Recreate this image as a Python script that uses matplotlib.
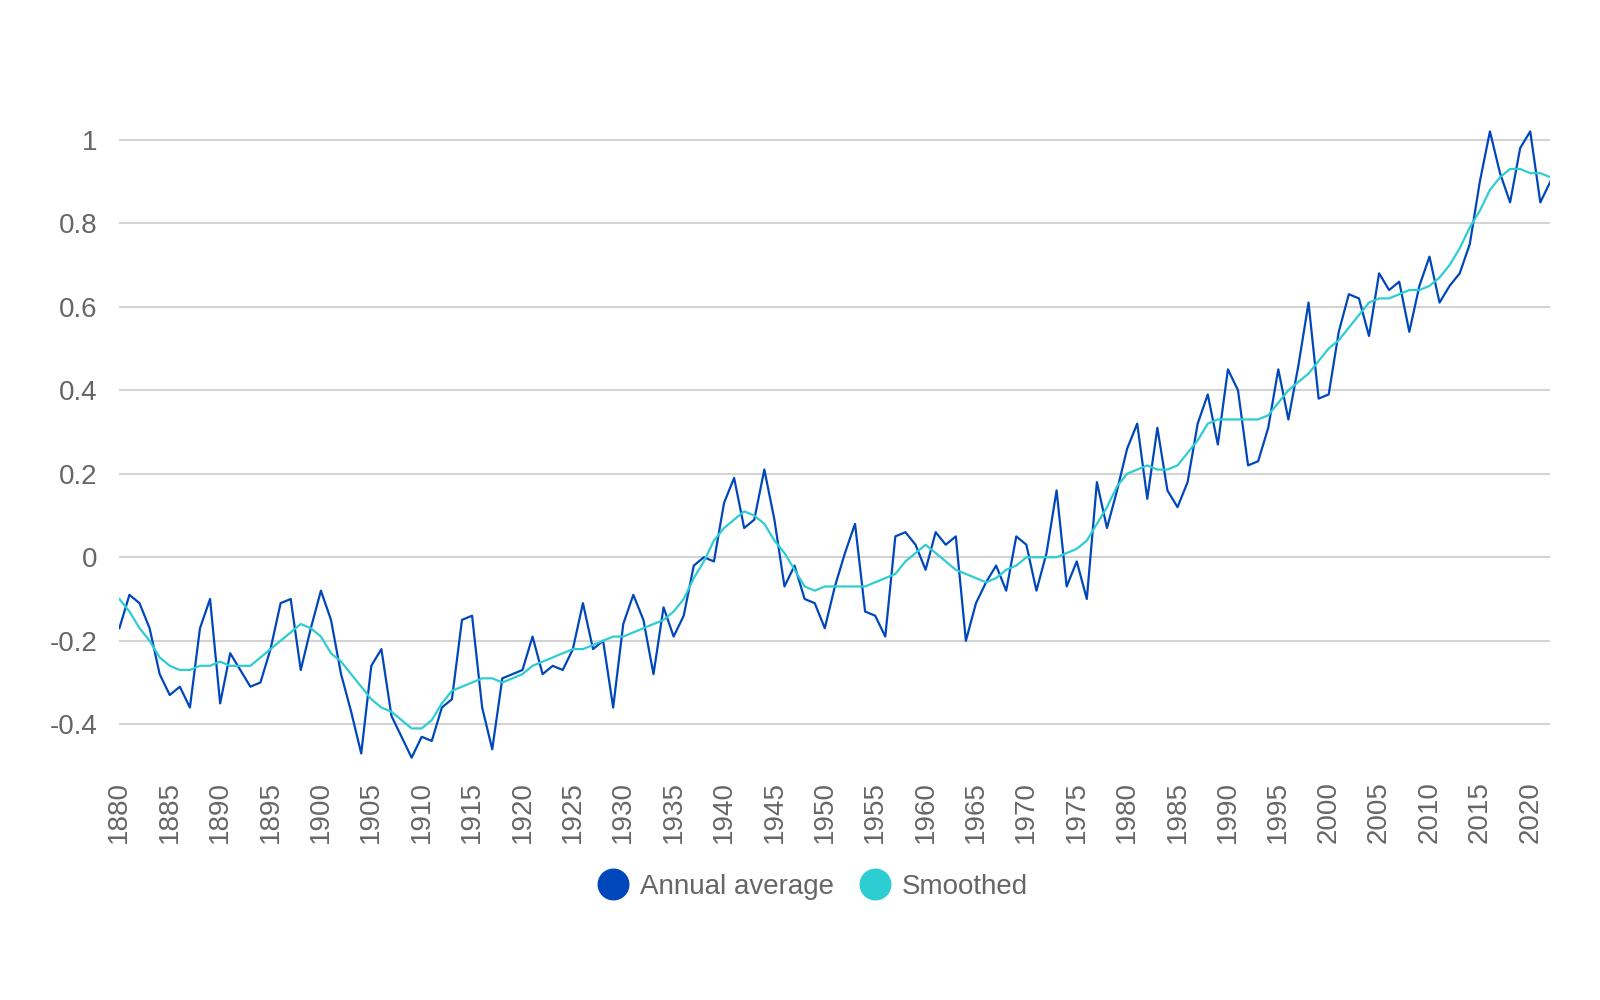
import matplotlib.pyplot as plt
from matplotlib.lines import Line2D
import numpy as np

# years and temperature anomaly values
years = np.arange(1880, 2023)

annual = [-0.17, -0.09, -0.11, -0.17, -0.28, -0.33, -0.31, -0.36, -0.17, -0.10,
          -0.35, -0.23, -0.27, -0.31, -0.30, -0.22, -0.11, -0.10, -0.27, -0.17,
          -0.08, -0.15, -0.28, -0.37, -0.47, -0.26, -0.22, -0.38, -0.43, -0.48,
          -0.43, -0.44, -0.36, -0.34, -0.15, -0.14, -0.36, -0.46, -0.29, -0.28,
          -0.27, -0.19, -0.28, -0.26, -0.27, -0.22, -0.11, -0.22, -0.20, -0.36,
          -0.16, -0.09, -0.15, -0.28, -0.12, -0.19, -0.14, -0.02, 0.00, -0.01,
          0.13, 0.19, 0.07, 0.09, 0.21, 0.09, -0.07, -0.02, -0.10, -0.11,
          -0.17, -0.07, 0.01, 0.08, -0.13, -0.14, -0.19, 0.05, 0.06, 0.03,
          -0.03, 0.06, 0.03, 0.05, -0.20, -0.11, -0.06, -0.02, -0.08, 0.05,
          0.03, -0.08, 0.01, 0.16, -0.07, -0.01, -0.10, 0.18, 0.07, 0.16,
          0.26, 0.32, 0.14, 0.31, 0.16, 0.12, 0.18, 0.32, 0.39, 0.27,
          0.45, 0.40, 0.22, 0.23, 0.31, 0.45, 0.33, 0.46, 0.61, 0.38,
          0.39, 0.54, 0.63, 0.62, 0.53, 0.68, 0.64, 0.66, 0.54, 0.65,
          0.72, 0.61, 0.65, 0.68, 0.75, 0.90, 1.02, 0.92, 0.85, 0.98,
          1.02, 0.85, 0.90]

smoothed = [-0.10, -0.13, -0.17, -0.20, -0.24, -0.26, -0.27, -0.27, -0.26, -0.26,
            -0.25, -0.26, -0.26, -0.26, -0.24, -0.22, -0.20, -0.18, -0.16, -0.17,
            -0.19, -0.23, -0.25, -0.28, -0.31, -0.34, -0.36, -0.37, -0.39, -0.41,
            -0.41, -0.39, -0.35, -0.32, -0.31, -0.30, -0.29, -0.29, -0.30, -0.29,
            -0.28, -0.26, -0.25, -0.24, -0.23, -0.22, -0.22, -0.21, -0.20, -0.19,
            -0.19, -0.18, -0.17, -0.16, -0.15, -0.13, -0.10, -0.05, -0.01, 0.04,
            0.07, 0.09, 0.11, 0.10, 0.08, 0.04, 0.01, -0.03, -0.07, -0.08,
            -0.07, -0.07, -0.07, -0.07, -0.07, -0.06, -0.05, -0.04, -0.01, 0.01,
            0.03, 0.01, -0.01, -0.03, -0.04, -0.05, -0.06, -0.05, -0.03, -0.02,
            0.00, 0.00, 0.00, 0.00, 0.01, 0.02, 0.04, 0.08, 0.12, 0.17,
            0.20, 0.21, 0.22, 0.21, 0.21, 0.22, 0.25, 0.28, 0.32, 0.33,
            0.33, 0.33, 0.33, 0.33, 0.34, 0.37, 0.40, 0.42, 0.44, 0.47,
            0.50, 0.52, 0.55, 0.58, 0.61, 0.62, 0.62, 0.63, 0.64, 0.64,
            0.65, 0.67, 0.70, 0.74, 0.79, 0.83, 0.88, 0.91, 0.93, 0.93,
            0.92, 0.92, 0.91]

y_ticks = [-0.4, -0.2, 0, 0.2, 0.4, 0.6, 0.8, 1]
x_ticks = np.arange(1880, 2021, 5)

annual_color = '#0047BB'
smooth_color = '#2ECCD3'
text_color = '#666666'

plt.rcParams['font.family'] = ['Liberation Sans', 'DejaVu Sans']

fig = plt.figure(figsize=(16, 10), dpi=100)
ax = fig.add_axes([0.0746, 0.234, 0.8944, 0.668])

ax.plot(years, annual, color=annual_color, linewidth=1.6, zorder=3)
ax.plot(years, smoothed, color=smooth_color, linewidth=1.6, zorder=4)

ax.set_xlim(1880, 2022)
ax.set_ylim(-0.5, 1.1)

ax.set_yticks(y_ticks)
ax.set_yticklabels(['-0.4', '-0.2', '0', '0.2', '0.4', '0.6', '0.8', '1'])
ax.set_xticks(x_ticks)
ax.set_xticklabels([str(y) for y in x_ticks], rotation=90)

ax.tick_params(axis='y', length=0, pad=16, labelsize=20, labelcolor=text_color)
ax.tick_params(axis='x', length=0, pad=11, labelsize=20, labelcolor=text_color)

ax.grid(axis='y', color='#d3d3d3', linewidth=1.5)
ax.set_axisbelow(True)
for s in ax.spines.values():
    s.set_visible(False)

# legend with round markers under the plot
handles = [Line2D([], [], marker='o', linestyle='none', markersize=22,
                  markerfacecolor=annual_color, markeredgecolor=annual_color),
           Line2D([], [], marker='o', linestyle='none', markersize=22,
                  markerfacecolor=smooth_color, markeredgecolor=smooth_color)]
fig.legend(handles, ['Annual average', 'Smoothed'], loc='center',
           bbox_to_anchor=(0.5085, 0.113), ncol=2, frameon=False,
           fontsize=20, labelcolor=text_color, handletextpad=0.45,
           columnspacing=1.0, handlelength=1.0)

plt.savefig('out.png', dpi=100, facecolor='white')
